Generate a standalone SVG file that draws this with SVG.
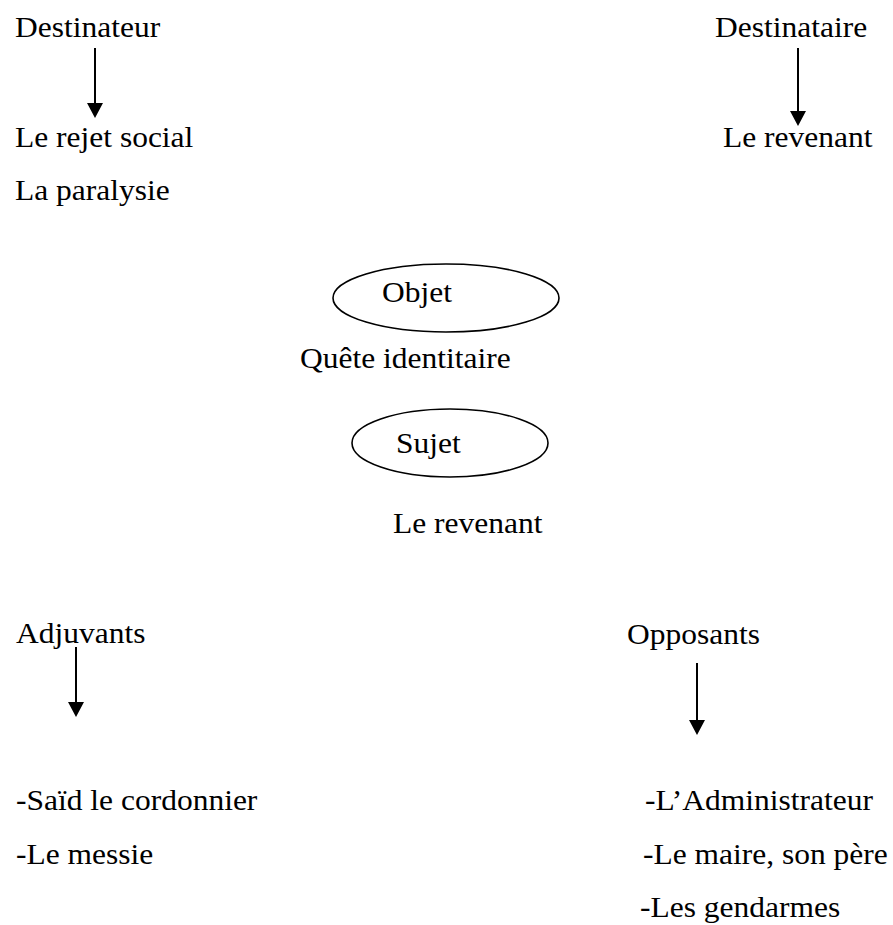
<svg xmlns="http://www.w3.org/2000/svg" width="893" height="925" viewBox="0 0 893 925">
<style>
text{font-family:"Liberation Serif","Times New Roman",serif;font-size:30px;fill:#000}
.conn{stroke:#000;stroke-width:2;fill:none;marker-end:url(#ah)}
.node ellipse{fill:none;stroke:#000;stroke-width:1.6}
</style>
<defs>
<marker id="ah" viewBox="0 0 15 16" refX="11" refY="8" markerWidth="15" markerHeight="16" markerUnits="userSpaceOnUse" orient="auto">
<path d="M0,0 L15,8 L0,16 z" fill="#000"/>
</marker>
</defs>
<rect width="893" height="925" fill="#fff"/>
<g id="destinateur" class="node"><text transform="matrix(1.05 0 0 1 15 37)">Destinateur</text></g>
<g id="destinateur-valeurs" class="node">
<text transform="matrix(1.05 0 0 1 15 147)">Le rejet social</text>
<text transform="matrix(1.05 0 0 1 15 200)">La paralysie</text>
</g>
<g id="destinataire" class="node"><text transform="matrix(1.05 0 0 1 715 37)">Destinataire</text></g>
<g id="destinataire-valeur" class="node"><text transform="matrix(1.05 0 0 1 723 147)">Le revenant</text></g>
<g id="objet" class="node">
<ellipse cx="446" cy="298" rx="113" ry="34"/>
<text transform="matrix(1.05 0 0 1 382 302)">Objet</text>
</g>
<g id="objet-valeur" class="node"><text transform="matrix(1.05 0 0 1 300 368)">Quête identitaire</text></g>
<g id="sujet" class="node">
<ellipse cx="450" cy="443" rx="98" ry="34"/>
<text transform="matrix(1.05 0 0 1 396 453)">Sujet</text>
</g>
<g id="sujet-valeur" class="node"><text transform="matrix(1.05 0 0 1 393 533)">Le revenant</text></g>
<g id="adjuvants" class="node"><text transform="matrix(1.05 0 0 1 16 643)">Adjuvants</text></g>
<g id="opposants" class="node"><text transform="matrix(1.05 0 0 1 627 644)">Opposants</text></g>
<g id="adjuvants-liste" class="node">
<text transform="matrix(1.05 0 0 1 16 810)">-Saïd le cordonnier</text>
<text transform="matrix(1.05 0 0 1 16 864)">-Le messie</text>
</g>
<g id="opposants-liste" class="node">
<text transform="matrix(1.05 0 0 1 645 810)">-L’Administrateur</text>
<text transform="matrix(1.05 0 0 1 643 864)">-Le maire, son père</text>
<text transform="matrix(1.05 0 0 1 640 917)">-Les gendarmes</text>
</g>
<g id="connectors">
<line class="conn" x1="95" y1="48" x2="95" y2="114"/>
<line class="conn" x1="798" y1="48" x2="798" y2="122"/>
<line class="conn" x1="76" y1="647" x2="76" y2="713"/>
<line class="conn" x1="697" y1="663" x2="697" y2="731"/>
</g>
</svg>
